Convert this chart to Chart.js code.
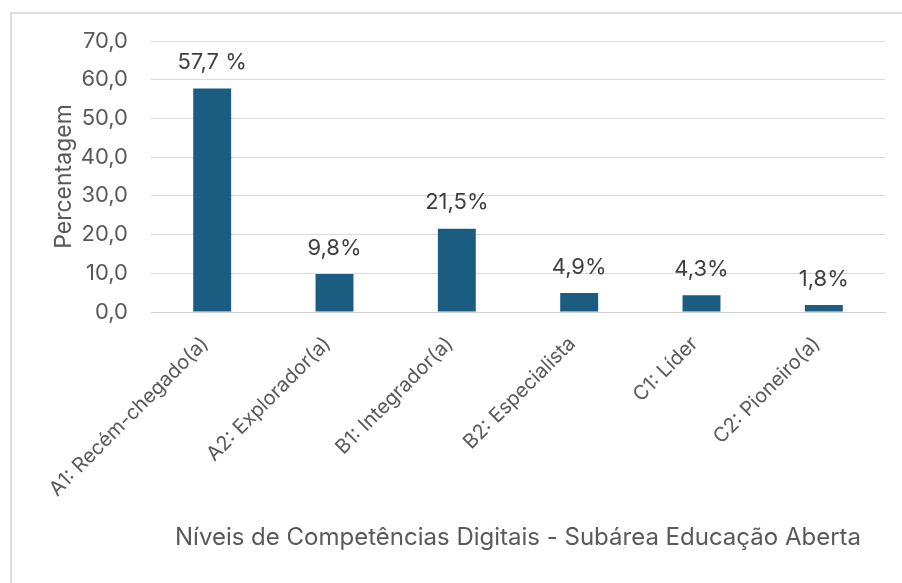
<!DOCTYPE html>
<html lang="pt">
<head>
<meta charset="utf-8">
<title>Níveis de Competências Digitais</title>
<script src="https://cdn.jsdelivr.net/npm/chart.js@4/dist/chart.umd.min.js"></script>
<style>
  html, body { margin: 0; padding: 0; background: #fff; }
  #wrap { position: relative; width: 902px; height: 583px; overflow: hidden; }
  #frame {
    position: absolute; left: 10px; top: 12px; right: -4px; bottom: -4px;
    border-left: 2px solid #dcdcdc; border-top: 2px solid #dcdcdc;
  }
  #chart { position: absolute; left: 0; top: 0; }
</style>
</head>
<body>
<div id="wrap">
  <div id="frame"></div>
  <canvas id="chart" width="902" height="583"></canvas>
</div>
<script>
const levels = [
  "A1: Recém-chegado(a)",
  "A2: Explorador(a)",
  "B1: Integrador(a)",
  "B2: Especialista",
  "C1: Líder",
  "C2: Pioneiro(a)",
];
const percentages = [57.7, 9.8, 21.5, 4.9, 4.3, 1.8];
// the first label was typed with a space before the sign
const labelSuffix = [" %", "%", "%", "%", "%", "%"];
const yMin = 0, yMax = 70, yStep = 10;

const FONT = "Inter, 'Liberation Sans', Arial, sans-serif";
const GREY = "#595959";

const comma = (v, d) => v.toFixed(d).replace(".", ",");

// value labels above each bar
const barLabels = {
  id: "barLabels",
  afterDatasetsDraw(chart) {
    const ctx = chart.ctx;
    const meta = chart.getDatasetMeta(0);
    ctx.save();
    ctx.font = `22px ${FONT}`;
    ctx.fillStyle = "#404040";
    ctx.textAlign = "center";
    ctx.textBaseline = "middle";
    meta.data.forEach((bar, i) => {
      ctx.fillText(comma(percentages[i], 1) + labelSuffix[i], bar.x, bar.y - 26);
    });
    ctx.restore();
  },
};

new Chart(document.getElementById("chart"), {
  type: "bar",
  data: {
    labels: levels,
    datasets: [{
      data: percentages,
      backgroundColor: "#1b5d80",
      categoryPercentage: 1,
      barPercentage: 0.31,
    }],
  },
  options: {
    responsive: false,
    devicePixelRatio: 1,
    animation: false,
    layout: { padding: { left: 50, right: 17, top: 41, bottom: 31 } },
    plugins: { legend: { display: false }, tooltip: { enabled: false } },
    scales: {
      x: {
        grid: { display: false, drawTicks: false },
        border: { color: "#d0d0d0", width: 1 },
        ticks: {
          color: GREY, font: { family: FONT, size: 20 },
          minRotation: 45, maxRotation: 45, autoSkip: false,
          padding: 20, labelOffset: -7,
        },
        title: {
          display: true,
          text: "Níveis de Competências Digitais - Subárea Educação Aberta",
          color: GREY, font: { family: FONT, size: 24 },
          padding: { top: 0, bottom: 0 },
        },
        afterFit(scale) { scale.height = 240; },
      },
      y: {
        min: yMin, max: yMax,
        grid: { color: "#d9d9d9", drawTicks: false },
        border: { display: false },
        ticks: {
          stepSize: yStep, color: GREY, padding: 23,
          font: { family: FONT, size: 22 },
          callback: (v) => comma(v, 1),
        },
        title: {
          display: true, text: "Percentagem",
          color: GREY, font: { family: FONT, size: 23 },
          padding: { top: 0, bottom: 0 },
        },
        afterFit(scale) { scale.width = 101; },
      },
    },
  },
  plugins: [barLabels],
});
</script>
</body>
</html>
